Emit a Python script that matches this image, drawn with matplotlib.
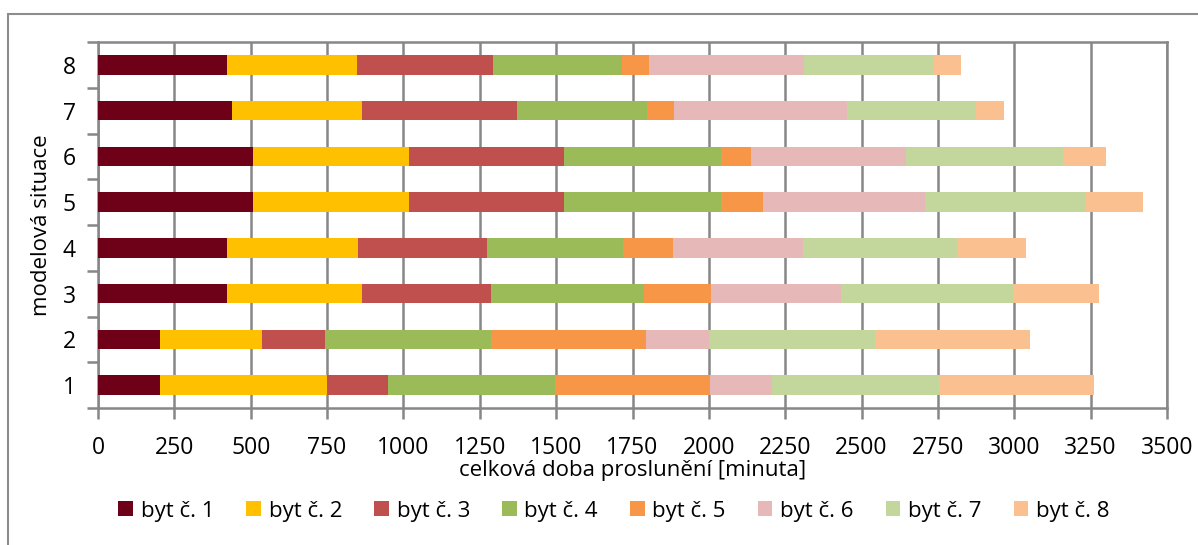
import numpy as np
import matplotlib.pyplot as plt
from matplotlib.patches import Rectangle

plt.rcParams['font.family'] = ['Open Sans', 'DejaVu Sans']

# data: minutes of sunlight per flat, for each model situation 1..8
situations = [1, 2, 3, 4, 5, 6, 7, 8]
series_names = ['byt č. 1', 'byt č. 2', 'byt č. 3', 'byt č. 4',
                'byt č. 5', 'byt č. 6', 'byt č. 7', 'byt č. 8']
byt1 = [202, 202, 422, 422, 506, 506, 440, 422]
byt2 = [547, 336, 442, 429, 512, 512, 424, 425]
byt3 = [200, 205, 422, 422, 507, 507, 509, 445]
byt4 = [547, 544, 502, 446, 514, 514, 425, 425]
byt5 = [508, 507, 219, 162, 139, 99, 88, 88]
byt6 = [204, 206, 427, 426, 529, 508, 565, 505]
byt7 = [545, 545, 563, 504, 527, 513, 425, 426]
byt8 = [508, 508, 281, 228, 188, 142, 89, 90]
colors = ['#6E0018', '#FFC000', '#C0504D', '#9BBB59',
          '#F79646', '#E6B9B8', '#C3D69B', '#FAC090']

W, H = 1198, 545
fig = plt.figure(figsize=(W / 100, H / 100), dpi=100)

# outer chart border (only top and left edges fall inside the image)
fig.patches.append(Rectangle((8 / W, -0.05), 1.0, 1.05 - 14 / H,
                             transform=fig.transFigure, fill=False,
                             edgecolor='#8C8C8C', linewidth=1.5))

ax = fig.add_axes([98 / W, 1 - 408 / H, (1167 - 98) / W, (408 - 42) / H])

grid_col = '#878787'
left = np.zeros(len(situations))
for vals, name, c in zip([byt1, byt2, byt3, byt4, byt5, byt6, byt7, byt8],
                         series_names, colors):
    ax.barh(situations, vals, left=left, height=0.43, color=c, label=name,
            edgecolor='none', zorder=3)
    left = left + np.array(vals)

ax.set_xlim(0, 3500)
ax.set_ylim(0.5, 8.5)
ax.set_xticks(np.arange(0, 3501, 250))
ax.set_yticks(situations)
ax.set_yticks(np.arange(0.5, 8.6, 1), minor=True)
ax.tick_params(axis='y', which='major', length=0, labelsize=16.5, pad=16)
ax.tick_params(axis='y', which='minor', length=8, width=1.8, color=grid_col)
ax.tick_params(axis='x', which='major', length=8, width=1.8, color=grid_col,
               labelsize=16.5, pad=12)
ax.grid(axis='x', color=grid_col, linewidth=1.8, zorder=0)
for s in ax.spines.values():
    s.set_color(grid_col)
    s.set_linewidth(1.8)

ax.set_xlabel('celková doba proslunění [minuta]', fontsize=16, labelpad=0)
ax.set_ylabel('modelová situace', fontsize=16, labelpad=8)

ax.legend(loc='center', bbox_to_anchor=(614 / W, 1 - 511 / H),
          bbox_transform=fig.transFigure, ncol=8, frameon=False,
          fontsize=16, handlelength=0.65, handleheight=0.65,
          handletextpad=0.35, columnspacing=1.45)

fig.savefig('out.png', dpi=100)
